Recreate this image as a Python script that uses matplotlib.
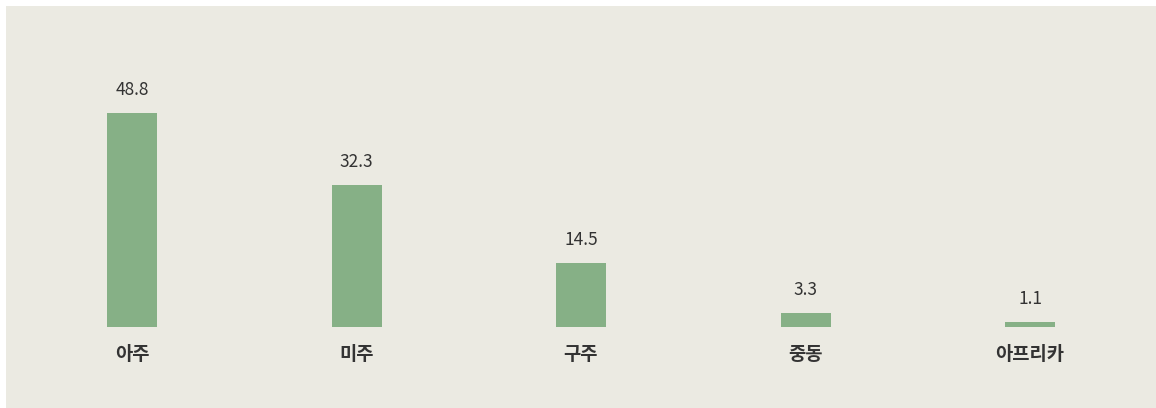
import matplotlib
matplotlib.use("Agg")
import matplotlib.pyplot as plt
from matplotlib.patches import Rectangle

plt.rcParams['font.family'] = ['Noto Sans CJK KR', 'DejaVu Sans']

categories = ['아주', '미주', '구주', '중동', '아프리카']
values = [48.8, 32.3, 14.5, 3.3, 1.1]
value_labels = ['48.8', '32.3', '14.5', '3.3', '1.1']

W, H = 1156, 408
fig = plt.figure(figsize=(W / 100, H / 100), dpi=100)
fig.patch.set_facecolor('white')
bg = '#EBEAE2'
fig.patches.append(Rectangle((6 / W, 0), 1 - 6 / W, (H - 6) / H,
                             transform=fig.transFigure, facecolor=bg,
                             edgecolor='none', zorder=-10))

left_px = 132 - 0.5 * 224.5
ax_w = 5 * 224.5
bottom_px = H - 327
ax_h = 267
ax = fig.add_axes([left_px / W, bottom_px / H, ax_w / W, ax_h / H])
ax.set_zorder(1)
ax.set_facecolor('none')
x = list(range(len(categories)))
ax.bar(x, values, width=50 / 224.5, color='#86B086', zorder=2)
ax.set_xlim(-0.5, 4.5)
ax.set_ylim(0, ax_h / 4.385)
for s in ax.spines.values():
    s.set_visible(False)
ax.set_yticks([])
ax.set_xticks(x)
ax.set_xticklabels(categories, fontsize=13.5, fontweight='bold', color='#333333')
ax.tick_params(axis='x', length=0, pad=13)

for xi, v, lab in zip(x, values, value_labels):
    ax.annotate(lab, (xi, v), xytext=(0, 14), textcoords='offset pixels',
                ha='center', va='bottom', fontsize=12.5, color='#333333')

fig.savefig('out.png', dpi=100, facecolor=fig.get_facecolor())
